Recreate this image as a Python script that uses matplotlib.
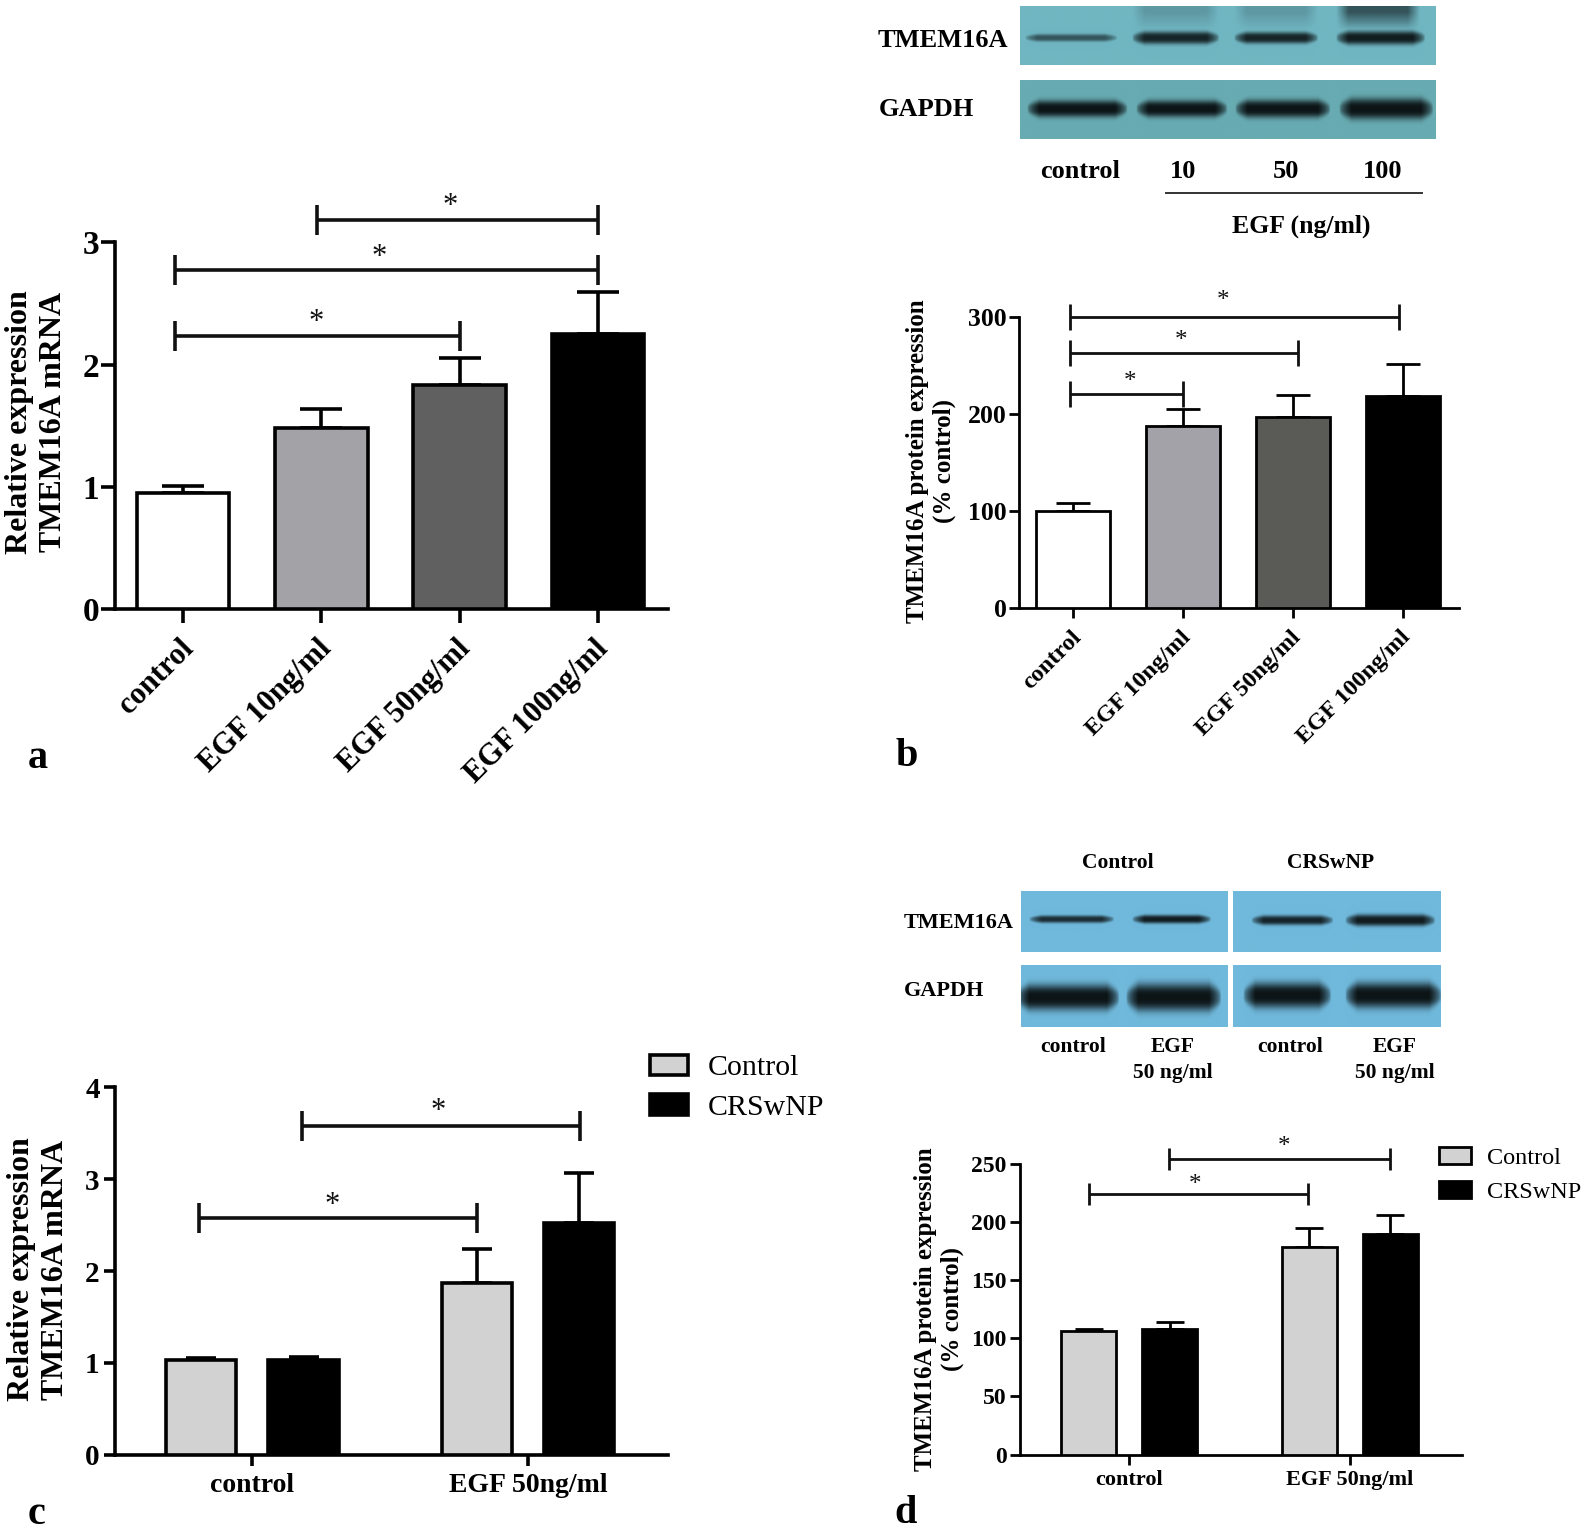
import numpy as np
import matplotlib
matplotlib.use("Agg")
import matplotlib.pyplot as plt
from matplotlib.patches import Patch
from matplotlib.transforms import ScaledTranslation

plt.rcParams["font.family"] = ["Liberation Serif", "DejaVu Serif"]
plt.rcParams["font.weight"] = "bold"

W, H = 1595, 1532
S = 1595 / 1568  # positions below were measured on a view slightly smaller than the file

# panel a
a_labels = ["control", "EGF 10ng/ml", "EGF 50ng/ml", "EGF 100ng/ml"]
a_values = [0.95, 1.48, 1.83, 2.25]
a_tops = [1.01, 1.64, 2.05, 2.59]
a_colors = ["white", "#a3a3a7", "#606060", "black"]
a_ticks = [0, 1, 2, 3]
a_brackets = [(-0.06, 2.0, 2.235), (-0.06, 3.0, 2.77), (0.97, 3.0, 3.18)]
a_stars = [(0.96, 2.235), (1.42, 2.77), (1.93, 3.18)]

# panel b
b_labels = a_labels
b_values = [100, 188, 197, 219]
b_tops = [109, 205, 220, 252]
b_colors = ["white", "#a2a2a8", "#5a5b56", "black"]
b_ticks = [0, 100, 200, 300]
b_brackets = [(-0.03, 1.0, 221), (-0.03, 2.05, 263), (-0.03, 2.97, 300)]
b_stars = [(0.52, 222), (0.98, 264), (1.36, 306)]

# panel c
c_groups = ["control", "EGF 50ng/ml"]
c_control = [1.03, 1.87]
c_control_top = [1.05, 2.24]
c_crs = [1.03, 2.52]
c_crs_top = [1.06, 3.07]
c_ticks = [0, 1, 2, 3, 4]
c_brackets = [(-0.195, 0.815, 2.58), (0.18, 1.19, 3.58)]
c_stars = [(0.29, 2.56), (0.675, 3.58)]

# panel d
d_groups = c_groups
d_control = [106, 178]
d_control_top = [108, 195]
d_crs = [108, 190]
d_crs_top = [114, 206]
d_ticks = [0, 50, 100, 150, 200, 250]
d_brackets = [(-0.18, 0.81, 224), (0.18, 1.18, 254)]
d_stars = [(0.30, 222), (0.70, 255)]

# blots: lane start, lane end, darkness, thickness
blot_b_top = [(1008, 1098, 0.6, 3.5), (1113, 1198, 0.9, 6), (1213, 1295, 0.9, 5.5), (1313, 1400, 0.95, 6.5)]
blot_b_smear = [(1113, 1198, 0.18), (1213, 1295, 0.18), (1313, 1395, 0.6)]
blot_b_gapdh = [(1010, 1108, 1.0, 8), (1117, 1206, 1.0, 8), (1214, 1307, 1.0, 8.5), (1316, 1408, 1.0, 10)]
blot_d_top_l = [(1012, 1095, 0.85, 3.5), (1113, 1190, 0.95, 4)]
blot_d_top_r = [(1230, 1310, 0.9, 4.5), (1322, 1410, 0.95, 5.5)]
blot_d_gapdh_l = [(1000, 1100, 1.0, 12), (1107, 1200, 1.0, 13)]
blot_d_gapdh_r = [(1222, 1308, 1.0, 12), (1322, 1416, 1.0, 12)]

fig = plt.figure(figsize=(W / 100, H / 100), dpi=100, facecolor="white")


def px_axes(x0, x1, y0, y1):
    # x0,x1 left/right and y0,y1 bottom/top, in view pixels
    return fig.add_axes([x0 * S / W, 1 - y0 * S / H, (x1 - x0) * S / W, (y0 - y1) * S / H])


def fig_text(x, y, s, **kw):
    kw.setdefault("ha", "center")
    kw.setdefault("va", "center")
    return fig.text(x * S / W, 1 - (y + 2) * S / H, s, **kw)


def style_axis(ax, ticks, lw, ticklen, size, ypad=3, xpad=3):
    for side in ["top", "right"]:
        ax.spines[side].set_visible(False)
    ax.spines["left"].set_linewidth(lw)
    ax.spines["bottom"].set_linewidth(lw)
    ax.set_yticks(ticks)
    ax.tick_params(axis="both", width=lw, length=ticklen, labelsize=size)
    ax.tick_params(axis="y", pad=ypad)
    ax.tick_params(axis="x", pad=xpad)
    ax.set_ylim(0, ticks[-1])
    ax.patch.set_alpha(0)


def shift_labels(ax, dx):
    # slanted labels sit a little left of their ticks
    for label in ax.get_xticklabels():
        label.set_transform(label.get_transform() + ScaledTranslation(dx / 72, 0, fig.dpi_scale_trans))


def draw_brackets(ax, brackets, stars, lw, capsize, star_size, star_offset):
    for start, end, level in brackets:
        ax.plot([start, end], [level, level], color="#111111", lw=lw, clip_on=False,
                solid_capstyle="butt", zorder=5)
        ax.plot([start, end], [level, level], ls="none", marker="|", ms=capsize, mew=lw,
                color="#111111", clip_on=False, zorder=5)
    for x, level in stars:
        ax.annotate("*", (x, level), xytext=(0, star_offset), textcoords="offset points",
                    ha="center", va="bottom", fontsize=star_size, fontweight="normal",
                    annotation_clip=False, color="#111111")


def draw_bars(ax, x, values, tops, colors, width, lw, cap):
    values = np.array(values, dtype=float)
    tops = np.array(tops, dtype=float)
    ax.bar(x, values, width=width, color=colors, edgecolor="black", linewidth=lw, zorder=3)
    ax.errorbar(x, values, yerr=[np.zeros(len(x)), tops - values], fmt="none", ecolor="black",
                elinewidth=lw, capsize=cap, capthick=lw, zorder=2)


# panel a
ax_a = px_axes(113, 657, 599, 238)
x_a = np.arange(4)
draw_bars(ax_a, x_a, a_values, a_tops, a_colors, 0.67, 2.6, 15)
ax_a.set_xlim(-67 / 136, 477 / 136)
style_axis(ax_a, a_ticks, 2.6, 10, 24, ypad=1.5, xpad=8)
ax_a.set_xticks(x_a)
ax_a.set_xticklabels(a_labels, rotation=45, ha="right", rotation_mode="anchor", fontsize=22)
shift_labels(ax_a, -3)
draw_brackets(ax_a, a_brackets, a_stars, 2.6, 22, 22, -1)
fig_text(36, 413, "Relative expression\nTMEM16A mRNA", rotation=90, fontsize=23, linespacing=1.25)
fig_text(37, 744, "a", fontsize=29)

# panel b
ax_b = px_axes(1002, 1434, 598, 312)
x_b = np.arange(4)
draw_bars(ax_b, x_b, b_values, b_tops, b_colors, 0.67, 2.0, 12)
ax_b.set_xlim(-53 / 108, 379 / 108)
style_axis(ax_b, b_ticks, 2.0, 7.5, 18.5, ypad=1.5, xpad=6)
ax_b.set_xticks(x_b)
ax_b.set_xticklabels(b_labels, rotation=45, ha="right", rotation_mode="anchor", fontsize=17.5)
shift_labels(ax_b, -2)
draw_brackets(ax_b, b_brackets, b_stars, 2.0, 19, 18, 0)
fig_text(915, 451, "TMEM16A protein expression\n(% control)", rotation=90, fontsize=18, linespacing=1.2)
fig_text(891, 742, "b", fontsize=29)

# panel c
ax_c = px_axes(113, 657, 1430, 1069)
x_c = np.arange(2)
off_c = 0.186
draw_bars(ax_c, x_c - off_c, c_control, c_control_top, "#d2d2d2", 0.2546, 2.6, 11)
draw_bars(ax_c, x_c + off_c, c_crs, c_crs_top, "black", 0.2546, 2.6, 11)
ax_c.set_xlim(-135 / 271, 409 / 271)
style_axis(ax_c, c_ticks, 2.6, 8, 21, xpad=5.5)
ax_c.set_xticks(x_c)
ax_c.set_xticklabels(c_groups, fontsize=20)
draw_brackets(ax_c, c_brackets, c_stars, 2.6, 22, 22, 0)
fig_text(38, 1246, "Relative expression\nTMEM16A mRNA", rotation=90, fontsize=23, linespacing=1.2)
fig_text(36, 1487, "c", fontsize=29)
ax_c.legend(
    handles=[Patch(facecolor="#d2d2d2", edgecolor="black", lw=2.6, label="Control"),
             Patch(facecolor="black", edgecolor="black", lw=2.6, label="CRSwNP")],
    loc="upper left", bbox_to_anchor=(624 * S / W, 1 - 1022 * S / H),
    bbox_transform=fig.transFigure, frameon=False, handlelength=1.3, handleheight=0.7,
    handletextpad=0.65, labelspacing=0.42, prop={"size": 21.5, "weight": "normal"}, borderpad=0,
    borderaxespad=0.5)

# panel d
ax_d = px_axes(1003, 1437, 1430, 1144)
x_d = np.arange(2)
off_d = 0.183
draw_bars(ax_d, x_d - off_d, d_control, d_control_top, "#d2d2d2", 0.25, 2.0, 10)
draw_bars(ax_d, x_d + off_d, d_crs, d_crs_top, "black", 0.25, 2.0, 10)
ax_d.set_xlim(-107 / 217, 327 / 217)
style_axis(ax_d, d_ticks, 2.0, 7, 17, xpad=4)
ax_d.set_xticks(x_d)
ax_d.set_xticklabels(d_groups, fontsize=16)
draw_brackets(ax_d, d_brackets, d_stars, 2.0, 16, 18, 0)
fig_text(923, 1285, "TMEM16A protein expression\n(% control)", rotation=90, fontsize=18, linespacing=1.2)
fig_text(890, 1486, "d", fontsize=29)
ax_d.legend(
    handles=[Patch(facecolor="#d2d2d2", edgecolor="black", lw=2.0, label="Control"),
             Patch(facecolor="black", edgecolor="black", lw=2.0, label="CRSwNP")],
    loc="upper left", bbox_to_anchor=(1403 * S / W, 1 - 1116 * S / H),
    bbox_transform=fig.transFigure, frameon=False, handlelength=1.3, handleheight=0.68,
    handletextpad=0.65, labelspacing=0.48, prop={"size": 17.5, "weight": "normal"}, borderpad=0,
    borderaxespad=0.5)


def draw_blot(x0, x1, y0, y1, bg, bands, band_y, smear=None):
    # soft bands on a coloured membrane, x and band_y in view pixels
    ax = px_axes(x0, x1, y1, y0)
    xs = np.arange(x0, x1, 0.5)
    ys = np.arange(y0, y1, 0.5)
    xx, yy = np.meshgrid(xs, ys)
    dark = np.zeros_like(xx)
    for start, end, level, thick in bands:
        edge = np.clip((xx - start) / 12, 0, 1) * np.clip((end - xx) / 12, 0, 1)
        local = thick * (0.3 + 0.7 * np.sqrt(edge))
        prof = np.exp(-np.abs((yy - band_y) / local) ** 3)
        dark = np.maximum(dark, level * np.sqrt(edge) * prof)
    for start, end, level in smear or []:
        edge = np.clip((xx - start) / 12, 0, 1) * np.clip((end - xx) / 12, 0, 1)
        prof = np.clip((y0 + 24 - yy) / 18, 0, 1)
        dark = np.maximum(dark, level * edge * prof)
    bg_rgb = np.array(matplotlib.colors.to_rgb(bg))
    band_rgb = np.array(matplotlib.colors.to_rgb("#0c1416"))
    img = bg_rgb[None, None, :] * (1 - dark[..., None]) + band_rgb[None, None, :] * dark[..., None]
    ax.imshow(img, extent=(x0, x1, y1, y0), aspect="auto", interpolation="bilinear")
    ax.axis("off")


# top right blot
draw_blot(1003, 1411, 6, 64, "#70b6c2", blot_b_top, 37, blot_b_smear)
draw_blot(1003, 1411, 79, 137, "#68abb2", blot_b_gapdh, 107)
fig_text(927, 38, "TMEM16A", fontsize=19)
fig_text(911, 106, "GAPDH", fontsize=19)
fig_text(1062, 167, "control", fontsize=19)
fig_text(1163, 167, "10", fontsize=19)
fig_text(1264, 167, "50", fontsize=19)
fig_text(1359, 167, "100", fontsize=19)
fig_text(1279, 220, "EGF (ng/ml)", fontsize=18.5)
fig.add_artist(plt.Line2D([1146 * S / W, 1398 * S / W], [1 - 190 * S / H] * 2, color="#333333", lw=1.4))

# lower right blot
draw_blot(1004, 1207, 876, 936, "#70b9dc", blot_d_top_l, 904)
draw_blot(1212, 1416, 876, 936, "#70b9dc", blot_d_top_r, 905)
draw_blot(1004, 1207, 949, 1010, "#70b9dc", blot_d_gapdh_l, 981)
draw_blot(1212, 1416, 949, 1010, "#70b9dc", blot_d_gapdh_r, 979)
fig_text(1099, 846, "Control", fontsize=15.5)
fig_text(1308, 846, "CRSwNP", fontsize=15.5)
fig_text(942, 905, "TMEM16A", fontsize=16)
fig_text(928, 972, "GAPDH", fontsize=16)
fig_text(1055, 1027, "control", fontsize=15.5)
fig_text(1153, 1027, "EGF", fontsize=15.5)
fig_text(1153, 1053, "50 ng/ml", fontsize=15.5)
fig_text(1268, 1027, "control", fontsize=15.5)
fig_text(1371, 1027, "EGF", fontsize=15.5)
fig_text(1371, 1053, "50 ng/ml", fontsize=15.5)

fig.savefig("out.png", dpi=100)
